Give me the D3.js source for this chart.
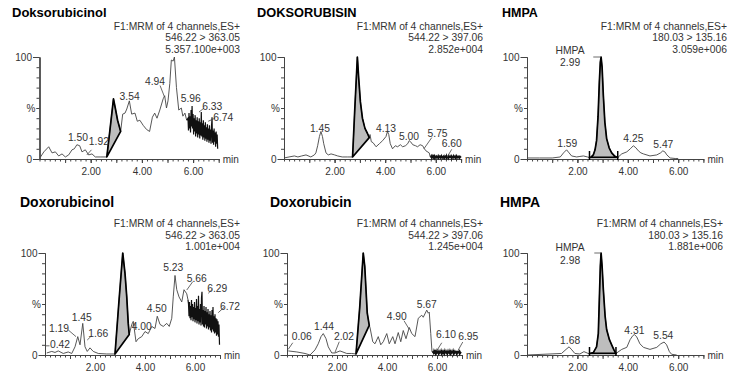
<!DOCTYPE html>
<html>
<head>
<meta charset="utf-8">
<script src="https://cdn.jsdelivr.net/npm/d3@7"></script>
<style>
body { margin: 0; background: #fff; }
svg { display: block; font-family: "Liberation Sans", Arial, sans-serif; }
</style>
</head>
<body>
<div id="chart"></div>
<script>
// values: [time (min), intensity (%)]
const p1Trace = [[0.04,2],[0.17,7],[0.36,12],[0.49,6],[0.62,7],[0.75,3],[0.88,5],[1.01,2],[1.14,4],[1.27,9],[1.36,10],[1.46,14],[1.57,13],[1.66,7],[1.79,9],[1.92,4],[2.05,5],[2.18,2],[2.37,2],[2.63,2],[2.75,28],[2.89,59],[2.96,50],[3.05,38],[3.17,27],[3.25,44],[3.34,45],[3.41,49],[3.51,57],[3.60,44],[3.73,45],[3.82,37],[3.92,38],[4.05,33],[4.18,29],[4.30,27],[4.41,41],[4.50,45],[4.59,40],[4.70,48],[4.83,59],[4.89,62],[4.96,50],[5.02,57],[5.09,74],[5.15,97],[5.22,96],[5.27,100],[5.35,70],[5.44,48],[5.54,50],[5.60,42],[5.68,45],[5.75,38]];
const p1Noise = [40,28,45,30,42,26,48,32,52,30,44,24,40,27,43,22,38,25,41,21,37,24,40,20,36,23,46,22,35,19,38,21,33,18,36,20,31,17,34,19,30,16,33,18,29,15,32,41,16,28,14,30,17,26,12,27,15,24,10];
const p1Peak = [2.63, 3.17];
const p1Labels = [["1.50",1.50,18],["1.92",2.32,13.5],["3.54",3.52,58],["4.94",4.51,72.5],["5.96",5.91,56],["6.33",6.75,48.5],["6.74",7.18,37]];
const p1Leaders = [[1.85,4,2.03,9],[4.71,72,4.88,61],[6.23,46,6.43,50],[6.59,37,6.86,40]];
const p1Header = ["F1:MRM of 4 channels,ES+","546.22 > 363.05","5.357.100e+003"];

const p2Trace = [[0.00,1],[0.20,2],[0.41,3],[0.55,2],[0.70,3],[0.87,4],[1.06,2],[1.20,4],[1.26,6],[1.33,13],[1.40,22],[1.46,27],[1.52,22],[1.57,15],[1.66,6],[1.75,4],[1.86,5],[2.00,4],[2.12,3],[2.30,2],[2.50,2],[2.71,2],[2.80,50],[2.90,100],[2.95,80],[3.02,56],[3.10,40],[3.20,30],[3.30,25],[3.37,21],[3.40,24],[3.45,17],[3.52,16],[3.64,12],[3.77,15],[3.90,18],[4.03,22],[4.09,27],[4.14,24],[4.20,15],[4.29,10],[4.40,13],[4.49,12],[4.60,14],[4.69,12],[4.80,13],[4.89,15],[4.95,18],[5.00,17],[5.09,14],[5.20,13],[5.28,12],[5.38,14],[5.48,13],[5.55,10],[5.61,8],[5.74,6],[5.78,2]];
const p2Noise = [2,3,1,2,3,1.5,2.5,1,3,2,1,2.5,3,1.5,2,1,3,2,2.5,1,2,3,1.5,2,1,2.5,3,1,2,2.5,1.5,3,1,2,2.5,1,3,2,1.5,2,3,1,2.5,2,1,3,2,1.5,2.5,1,2,3,1,2,2.5,1.5,2,1,2.5,2,1.5];
const p2Peak = [2.71, 3.37];
const p2Labels = [["1.45",1.42,26.7],["4.13",4.03,26.7],["5.00",4.94,18.6],["5.75",6.07,21.6],["6.60",6.63,11.8]];
const p2Leaders = [[5.53,10,5.84,21],[6.45,2,6.63,9.5]];
const p2Header = ["F1:MRM of 4 channels,ES+","544.22 > 397.06","2.852e+004"];

const p3Trace = [[0.00,1],[0.50,1],[1.00,1],[1.32,2],[1.45,6],[1.57,9],[1.67,6],[1.77,3],[1.97,2],[2.10,2.5],[2.24,3],[2.40,2],[2.48,1.5],[2.55,2],[2.63,4],[2.70,9],[2.76,18],[2.82,42],[2.87,75],[2.91,95],[2.94,100],[2.98,90],[3.03,62],[3.09,36],[3.16,20],[3.26,11],[3.36,6],[3.47,3],[3.60,1.5],[3.76,5],[3.96,7],[4.10,10],[4.22,13],[4.32,11],[4.42,8],[4.52,6],[4.62,5],[4.88,3],[5.15,4],[5.30,6],[5.39,8],[5.47,7],[5.55,4],[5.68,1],[5.88,0.5],[6.00,0.5]];
const p3Peak = [2.48, 3.60];
const p3Labels = [["HMPA",1.71,103.4],["2.99",1.71,91],["1.59",1.60,11.8],["4.25",4.22,16.7],["5.47",5.41,10.8]];
const p3Leaders = [[2.63,100,2.94,100]];
const p3Header = ["F1:MRM of 4 channels,ES+","180.03 > 135.16","3.059e+006"];

const p4Trace = [[0.07,2],[0.27,3.5],[0.40,2.5],[0.53,4],[0.73,1.5],[0.93,3],[1.07,1.5],[1.20,8],[1.31,18],[1.40,10],[1.51,31],[1.60,8],[1.69,3.5],[1.80,7],[1.93,3.5],[2.13,1.5],[2.47,1],[2.80,1],[2.95,50],[3.11,100],[3.20,80],[3.27,57],[3.33,31],[3.37,20],[3.47,30],[3.53,33],[3.64,13],[3.73,16],[3.87,18],[4.00,23],[4.13,21],[4.27,28],[4.40,26],[4.49,38],[4.60,30],[4.73,28],[4.87,31],[4.97,28],[5.07,36],[5.13,57],[5.20,78],[5.27,64],[5.36,57],[5.47,52],[5.56,64],[5.67,60],[5.72,54]];
const p4Noise = [50,38,52,36,48,34,54,37,50,33,47,35,52,32,46,34,55,31,48,33,58,30,45,32,50,29,56,62,30,44,28,48,27,43,30,47,26,42,28,45,25,40,27,43,24,39,22,44,25,47,23,38,21,40,22,36,19,35,20,33,18,30,10];
const p4Peak = [2.80, 3.37];
const p4Labels = [["0.42",0.60,6.4],["1.19",0.56,22.5],["1.45",1.47,33],["1.66",2.13,17.6],["4.00",3.87,25],["4.50",4.47,42],["5.23",5.13,82],["5.66",6.07,71.6],["6.29",6.89,61.8],["6.72",7.40,44]];
const p4Leaders = [[0.04,9,0.18,9],[0.93,24.5,1.24,18],[1.69,14.7,1.83,18],[3.50,29.4,3.62,29.4],[5.67,63.7,5.91,71.9],[6.53,60.5,6.69,64.4],[6.93,41.5,7.16,46.7]];
const p4Header = ["F1:MRM of 4 channels,ES+","546.22 > 363.05","1.001e+004"];

const p5Trace = [[0.05,4],[0.39,3],[0.72,1.5],[0.92,0],[1.12,5],[1.25,11],[1.36,18],[1.45,21],[1.56,16],[1.65,8],[1.79,2],[1.92,2],[2.12,4],[2.39,1.5],[2.59,1.5],[2.76,1],[2.91,47],[3.05,100],[3.11,87],[3.16,64],[3.21,41],[3.29,29],[3.32,27],[3.43,13],[3.52,11],[3.65,18],[3.75,10],[3.85,13],[3.99,21],[4.09,11],[4.23,18],[4.32,11],[4.45,22],[4.55,13],[4.65,24],[4.76,16],[4.89,27],[4.99,21],[5.12,18],[5.25,36],[5.39,39],[5.45,37],[5.59,44],[5.65,41],[5.69,42],[5.75,21],[5.80,3]];
const p5Noise = [3,2,4,2.5,3.5,1.5,3,2,4,2.5,3,1.5,3.5,2,3,2.5,4,1.5,3,2,3.5,2,3,1.5,4,2.5,3,2,3.5,1.5,3,2.5,4,2,3,1.5,3.5,2,3,2.5,4,1.5,3,2,3.5,2.5,3,1.5,4,2,3,2.5,3.5,1.5,3,2,3];
const p5Peak = [2.76, 3.29];
const p5Labels = [["0.06",0.59,14.7],["1.44",1.48,25],["2.02",2.28,14.7],["4.90",4.39,34],["5.67",5.59,45.6],["6.10",6.36,16.7],["6.95",7.25,14.7]];
const p5Leaders = [[0.05,5.6,0.23,12],[1.92,2.6,2.09,13],[4.68,33.6,4.89,25.2],[5.99,4.2,6.19,12],[6.85,4.9,7.03,12.7]];
const p5Header = ["F1:MRM of 4 channels,ES+","544.22 > 397.06","1.245e+004"];

const p6Trace = [[0.00,0],[1.37,1.5],[1.55,5.5],[1.67,8],[1.78,5],[1.90,1.5],[2.10,1],[2.26,3.3],[2.43,1.5],[2.48,1.5],[2.63,2.3],[2.76,8],[2.83,21],[2.87,54],[2.91,87],[2.94,100],[2.98,87],[3.03,64],[3.10,38],[3.16,25],[3.27,15],[3.36,10],[3.45,5],[3.53,1.5],[3.76,5.5],[3.96,7.5],[4.09,15],[4.20,19],[4.26,20],[4.35,18],[4.48,11],[4.62,7.5],[4.88,5.5],[5.15,7.5],[5.31,11],[5.44,12.7],[5.54,10],[5.65,3.3],[5.74,0.7],[5.94,0]];
const p6Peak = [2.48, 3.53];
const p6Labels = [["HMPA",1.71,102],["2.98",1.71,89.7],["1.68",1.71,10.8],["4.31",4.26,21],["5.54",5.41,15.7]];
const p6Leaders = [[2.67,100,2.94,100]];
const p6Header = ["F1:MRM of 4 channels,ES+","180.03 > 135.16","1.881e+006"];

const xTickLabels = [2, 4, 6];

// layout of the six panels
const panels = [
  {title: "Doksorubicinol", tx: 12, ty: 16.5, ts: 13, x0: 39.5, ppm: 25.6, base: 159, top: 57, hr: 240, hy: [30, 41, 53],
   trace: p1Trace, noise: p1Noise, noiseStart: 5.80, noiseW: 1.2, peak: p1Peak, labels: p1Labels, leaders: p1Leaders, header: p1Header},
  {title: "DOKSORUBISIN", tx: 257, ty: 16.5, ts: 12.8, x0: 284, ppm: 25.3, base: 159, top: 57, hr: 483, hy: [30, 41, 53],
   trace: p2Trace, noise: p2Noise, noiseStart: 5.80, noiseW: 1.6, peak: p2Peak, labels: p2Labels, leaders: p2Leaders, header: p2Header},
  {title: "HMPA", tx: 502, ty: 16.5, ts: 12.5, x0: 527, ppm: 25.2, base: 159, top: 57, hr: 727, hy: [30, 41, 53],
   trace: p3Trace, peak: p3Peak, markers: true, labels: p3Labels, leaders: p3Leaders, header: p3Header},
  {title: "Doxorubicinol", tx: 20, ty: 206.5, ts: 14, x0: 45, ppm: 25, base: 355, top: 253, hr: 240, hy: [227, 238.5, 250],
   trace: p4Trace, noise: p4Noise, noiseStart: 5.74, noiseW: 1.2, peak: p4Peak, labels: p4Labels, leaders: p4Leaders, header: p4Header},
  {title: "Doxorubicin", tx: 270, ty: 206.5, ts: 14, x0: 287, ppm: 25, base: 355, top: 253, hr: 483, hy: [227, 238.5, 250],
   trace: p5Trace, noise: p5Noise, noiseStart: 5.84, noiseW: 1.6, peak: p5Peak, labels: p5Labels, leaders: p5Leaders, header: p5Header},
  {title: "HMPA", tx: 500, ty: 206.5, ts: 14, x0: 527, ppm: 25.2, base: 355, top: 253, hr: 723, hy: [227, 238.5, 250],
   trace: p6Trace, peak: p6Peak, markers: true, labels: p6Labels, leaders: p6Leaders, header: p6Header}
];

const svg = d3.select("#chart").append("svg")
    .attr("width", 739)
    .attr("height", 382);

svg.append("rect").attr("width", 739).attr("height", 382).attr("fill", "#fff");

panels.forEach(drawPanel);

function drawPanel(p) {
    const x = d3.scaleLinear().domain([0, 7]).range([p.x0, p.x0 + 7 * p.ppm]);
    const y = d3.scaleLinear().domain([0, 100]).range([p.base, p.top]);
    const line = d3.line().x(d => x(d[0])).y(d => y(d[1]));
    const g = svg.append("g");

    g.append("text")
        .attr("x", p.tx).attr("y", p.ty)
        .attr("font-size", p.ts).attr("font-weight", "bold")
        .attr("fill", "#000")
        .text(p.title);

    g.selectAll(".hdr").data(p.header).join("text")
        .attr("x", p.hr).attr("y", (d, i) => p.hy[i])
        .attr("text-anchor", "end")
        .attr("font-size", 10.3).attr("fill", "#333")
        .text(d => d);

    // x axis: minor, major and labelled ticks
    const xa = g.append("g").attr("transform", `translate(0,${p.base})`);
    xa.call(d3.axisBottom(x).tickValues(d3.range(0, 7.001, 0.2)).tickSize(2.5).tickSizeOuter(0).tickFormat(""));
    xa.append("g").call(d3.axisBottom(x).tickValues(d3.range(1, 7.001, 1)).tickSize(4).tickSizeOuter(0).tickFormat(""));
    xa.append("g").call(d3.axisBottom(x).tickValues(xTickLabels).tickSize(4).tickPadding(5).tickSizeOuter(0).tickFormat(d3.format(".2f")));
    xa.selectAll("path, line").attr("stroke", "#444");
    xa.selectAll("text").attr("font-size", 10).attr("fill", "#333").attr("font-family", "Liberation Sans, Arial, sans-serif");

    // y axis
    const ya = g.append("g").attr("transform", `translate(${p.x0},0)`);
    ya.call(d3.axisLeft(y).tickValues(d3.range(0, 101, 10)).tickSize(3).tickSizeOuter(0).tickFormat(""));
    ya.append("g").call(d3.axisLeft(y).tickValues([0, 100]).tickSize(6.5).tickPadding(1).tickSizeOuter(0));
    ya.append("g").call(d3.axisLeft(y).tickValues([50]).tickSize(3).tickPadding(1).tickSizeOuter(0).tickFormat(() => "%"));
    ya.selectAll("path, line").attr("stroke", "#444");
    ya.selectAll("text").attr("font-size", 10).attr("fill", "#333").attr("font-family", "Liberation Sans, Arial, sans-serif");

    g.append("text")
        .attr("x", x(7) + 4).attr("y", p.base + 3.5)
        .attr("font-size", 10).attr("fill", "#333")
        .text("min");

    // integrated peak
    const pk = p.trace.filter(d => d[0] >= p.peak[0] - 1e-9 && d[0] <= p.peak[1] + 1e-9);
    g.append("path")
        .attr("d", line(pk) + "Z")
        .attr("fill", "#bdbdbd");

    g.append("path")
        .attr("d", line(p.trace))
        .attr("fill", "none")
        .attr("stroke", "#444")
        .attr("stroke-width", 0.9);

    if (p.noise) {
        const last = p.trace[p.trace.length - 1];
        const pts = [last].concat(p.noise.map((v, i) => [p.noiseStart + i * 0.02, v]));
        g.append("path")
            .attr("d", line(pts))
            .attr("fill", "none")
            .attr("stroke", "#111")
            .attr("stroke-width", p.noiseW);
    }

    g.append("path")
        .attr("d", line(pk) + "Z")
        .attr("fill", "none")
        .attr("stroke", "#000")
        .attr("stroke-width", 1.7)
        .attr("stroke-linejoin", "round");

    if (p.markers) {
        g.selectAll(".mark").data(p.peak).join("line")
            .attr("x1", d => x(d)).attr("x2", d => x(d))
            .attr("y1", p.base + 1).attr("y2", p.base - 8)
            .attr("stroke", "#000").attr("stroke-width", 1.5);
    }

    g.selectAll(".leader").data(p.leaders).join("line")
        .attr("x1", d => x(d[0])).attr("y1", d => y(d[1]))
        .attr("x2", d => x(d[2])).attr("y2", d => y(d[3]))
        .attr("stroke", "#444").attr("stroke-width", 0.8);

    g.selectAll(".lbl").data(p.labels).join("text")
        .attr("x", d => x(d[1])).attr("y", d => y(d[2]))
        .attr("text-anchor", "middle")
        .attr("font-size", 10.3).attr("fill", "#333")
        .text(d => d[0]);
}
</script>
</body>
</html>
